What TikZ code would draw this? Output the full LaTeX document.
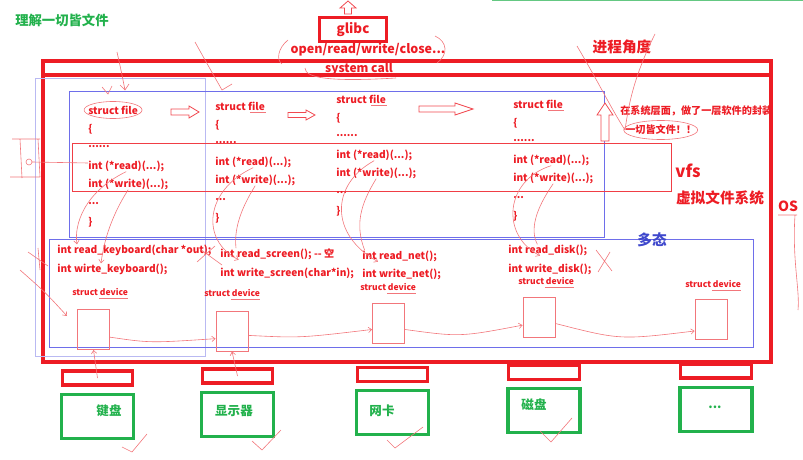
\documentclass[tikz,border=0pt]{standalone}
\usepackage{fontspec}
\setmainfont{Noto Sans CJK SC}
\usetikzlibrary{arrows.meta, positioning, calc}
\definecolor{osred}{HTML}{ED1C24}
\definecolor{hwgreen}{HTML}{22B14C}
\definecolor{vfsblue}{HTML}{6E6EEA}
\definecolor{paleblue}{HTML}{B9B9F2}
\definecolor{polyblue}{HTML}{3F48CC}
\definecolor{inkred}{HTML}{F2767B}

\begin{document}
\begin{tikzpicture}[x=0.75pt, y=-0.75pt,
    thickred/.style={draw=osred, line width=2.3pt},
    port/.style={rectangle, draw=osred, line width=2.3pt, minimum width=53pt, minimum height=10.5pt, inner sep=0pt},
    hw/.style={rectangle, draw=hwgreen, line width=2.3pt, minimum width=54pt, minimum height=33pt, inner sep=0pt},
    hwlabel/.style={text=hwgreen, font=\bfseries\fontsize{9.4}{11}\selectfont, inner sep=0pt},
    code/.style={anchor=west, inner sep=0pt, text=osred, font=\bfseries\fontsize{7.6}{9}\selectfont},
    devlabel/.style={anchor=west, inner sep=0pt, text=osred, font=\bfseries\fontsize{6.4}{7}\selectfont},
    device/.style={rectangle, draw=inkred, line width=0.6pt, minimum width=24pt, minimum height=30pt, inner sep=0pt},
    title/.style={text=osred, font=\bfseries\fontsize{11}{13}\selectfont, inner sep=0pt},
    hollow/.style={draw=osred!80, line width=0.6pt, fill=white},
    scrib/.style={draw=inkred, line width=0.45pt},
    barb/.style={-{Straight Barb[length=2.5pt, width=4pt]}},
  ]
    \useasboundingbox (0,0) rectangle (803,460);

    % top edge
    \draw[hwgreen!70, line width=0.8pt] (492,0.6) -- (803,0.6);
    \node[hwlabel, font=\bfseries\fontsize{10}{12}\selectfont] (title) at (62,20) {理解一切皆文件};

    % glibc and system calls
    \node[rectangle, thickred, minimum width=50pt, minimum height=18pt, text=osred,
      font=\bfseries\fontsize{10}{12}\selectfont] (glibc) at (353,29.5) {glibc};
    \draw[hollow] (344.5,14) -- ++(0,-6) -- ++(-4.5,0) -- ++(8,-7) -- ++(8,7) -- ++(-4.5,0) -- ++(0,6) -- cycle;
    \node[title, font=\bfseries\fontsize{9.4}{11}\selectfont] (calls) at (368,50) {open/read/write/close...};
    \node[title] (proc) at (622,47) {进程角度};

    % OS box and system call bar
    \draw[thickred] (43,61) rectangle (771,362);
    \draw[thickred] (43,61) rectangle (771,75);
    \node[title, font=\bfseries\fontsize{9}{11}\selectfont] (syscall) at (359,69) {system call};

    % vfs layer
    \draw[paleblue, line width=0.7pt] (35,78) rectangle (205,356);
    \draw[vfsblue, line width=0.7pt] (69,91) rectangle (604,237);
    \draw[osred!85, line width=0.6pt] (72,143) rectangle (671,191);
    \foreach \c/\x/\y in {1/88/110, 2/215/106, 3/336/99, 4/513/104} {
      \node[code] (sf\c) at (\x,\y) {struct file};
      \node[code] (sf\c-open) at (\x,\y+19) {\{};
      \node[code] (sf\c-dots) at (\x,\y+37) {......};
      \node[code] (sf\c-read) at (\x,\y+56) {int (*read)(...);};
      \node[code] (sf\c-write) at (\x,\y+74) {int (*write)(...);};
      \node[code] (sf\c-more) at (\x,\y+94) {...};
      \node[code] (sf\c-close) at (\x,\y+112) {\}};
    }
    % hollow arrows between files
    \draw[hollow] (171,109) -- ++(18,0) -- ++(0,-3) -- ++(10,6) -- ++(-10,6) -- ++(0,-3) -- ++(-18,0) -- cycle;
    \draw[hollow] (288,112.5) -- ++(18,0) -- ++(0,-2.5) -- ++(9,5) -- ++(-9,5) -- ++(0,-2.5) -- ++(-18,0) -- cycle;
    \draw[hollow] (419,106) -- ++(36,0) -- ++(0,-3) -- ++(18,6) -- ++(-18,6) -- ++(0,-3) -- ++(-36,0) -- cycle;
    \draw[hollow] (601,141) -- ++(0,-26) -- ++(-4,0) -- ++(8,-12) -- ++(8,12) -- ++(-4,0) -- ++(0,26) -- cycle;

    \node[code, font=\bfseries\fontsize{7.6}{9}\selectfont] (wrap) at (620,111) {在系统层面，做了一层软件的封装};
    \node[code, font=\bfseries\fontsize{7.6}{9}\selectfont] (allfile) at (625,130) {一切皆文件！！};
    \node[title, font=\bfseries\fontsize{12.5}{14}\selectfont] (vfs) at (688,171) {vfs};
    \node[title] (vfsname) at (720,198) {虚拟文件系统};
    \node[title, font=\bfseries\fontsize{10.5}{12}\selectfont] (os) at (788,206) {OS};

    % device layer
    \draw[vfsblue, line width=0.7pt] (49,239) rectangle (753,347);
    \node[title, text=polyblue] (poly) at (652,240) {多态};
    \node[code] (kb-read) at (57,250) {int read\_keyboard(char *out);};
    \node[code] (kb-write) at (57,269) {int wirte\_keyboard();};
    \node[code] (scr-read) at (220,254) {int read\_screen(); {-}{-} 空};
    \node[code] (scr-write) at (220,273) {int write\_screen(char*in);};
    \node[code] (net-read) at (362,256) {int read\_net();};
    \node[code] (net-write) at (362,274) {int write\_net();};
    \node[code] (dsk-read) at (508,250) {int read\_disk();};
    \node[code] (dsk-write) at (508,269) {int write\_disk();};
    \foreach \d/\lx/\ly/\bx/\by in {1/72/292/93.5/329.5, 2/204/293/232/331, 3/360/287/388.5/323.5,
        4/518/281/539/317.5, 5/685/284/711/319.5} {
      \node[devlabel] (devname\d) at (\lx,\ly) {struct device};
      \node[device] (dev\d) at (\bx,\by) {};
    }

    % hardware
    \foreach \h/\x/\y/\tx/\ty/\t in {1/97.5/378/109/411/键盘, 2/237.5/376/234/411/显示器,
        3/392.5/374.5/382/411/网卡, 4/544/372.5/534/405/磁盘, 5/716/371/715/407/{.{}.{}.}} {
      \node[port] (port\h) at (\x,\y) {};
      \node[hw, below=4.5pt of port\h] (hw\h) {};
      \node[hwlabel] (hwname\h) at (\tx,\ty) {\t};
    }

    % hand-written marks
    \draw[scrib] (sf1.center) ellipse [x radius=29, y radius=8.5];
    \draw[scrib] (allfile.center) ellipse [x radius=37, y radius=9.5];
    \foreach \c in {2,3,4} \draw[scrib] ([xshift=-11pt,yshift=-1pt]sf\c.south east) -- ([xshift=1pt,yshift=-1pt]sf\c.south east);
    \foreach \d in {1,2,3,4,5} \draw[scrib] ([xshift=-22pt,yshift=-1.5pt]devname\d.south east) -- ([yshift=-1.5pt]devname\d.south east);

    \draw[scrib, barb] (sf1-read.south) .. controls (84,192) and (74,225) .. ([xshift=15pt]kb-read.north west);
    \draw[scrib, barb] (sf1-write.south) .. controls (112,215) and (104,240) .. ([xshift=33pt]kb-write.north west);
    \draw[scrib, barb] (sf2-read.south) .. controls (205,190) and (200,240) .. ([xshift=14pt]scr-read.south west);
    \draw[scrib] (sf2-write.south) .. controls (240,210) and (234,230) .. ([xshift=12pt]scr-read.north west);
    \draw[scrib, barb] (sf3-read.south) .. controls (330,185) and (330,235) .. ([xshift=12pt]net-read.south west);
    \draw[scrib] (sf3-write.south) .. controls (360,205) and (355,225) .. ([xshift=2pt]net-read.north west);
    \draw[scrib, barb] (sf4-read.south) .. controls (505,180) and (500,235) .. ([xshift=24pt]dsk-read.south west);
    \draw[scrib] (sf4-write.south) .. controls (535,210) and (530,230) .. ([xshift=22pt]dsk-read.north west);

    \draw[scrib, barb] (dev1.-25) .. controls (150,343) .. (dev2.205);
    \draw[scrib, barb] (dev2.-15) .. controls (300,338) .. (dev3.200);
    \draw[scrib, barb] (dev3.-20) .. controls (460,337) .. (dev4.205);
    \draw[scrib, barb] (dev4.-20) .. controls (620,340) .. (dev5.215);
    \draw[scrib, barb] (port1.center) -- (dev1.south);
    \draw[scrib, barb] (port2.center) -- (dev2.south);

    \coordinate (proc-l) at (577,46);
    \coordinate (proc-r) at (655,34);
    \draw[scrib] (proc-l) .. controls (600,85) and (612,110) .. (allfile.west);
    \draw[scrib] (proc-r) .. controls (632,80) and (628,110) .. (allfile.west);
    \draw[scrib, barb] (20,270) .. controls (45,292) .. (67,316);
    \draw[scrib] (28,252) -- (48,266) (38,248) -- (40,270);
    \draw[scrib] (12,139) -- (40,139) (20,139) -- (22,178) (10,177) -- (40,177) (38,139) -- (40,177);
    \draw[scrib] (29,162) circle [radius=3] (32,162) -- (88,163);
    \draw[scrib] (200,249) -- (222,265) (197,262) -- (215,246);
    \draw[scrib] (596,250) -- (612,271) (598,272) -- (610,252);
    \draw[scrib] (288,40) .. controls (278,48) and (276,60) .. (282,64);
    \draw[scrib] (305,68) .. controls (305,78) and (330,82) .. (396,78);
    \draw[scrib] (435,36) .. controls (448,42) and (448,55) .. (437,63);
    \draw[scrib] (195,42) .. controls (205,60) .. (222,90) -- (232,84);
    \draw[scrib] (117,52) .. controls (121,70) .. (125,90) (120,85) -- (125,90) -- (129,84);
    \draw[scrib] (102,87) -- (108,94) -- (112,86);
    \draw[scrib] (778,215) -- (797,215) (795,215) .. controls (792,260) and (800,290) .. (798,310);
    \foreach \a/\b/\c/\d/\e/\f in {122/447/132/452/147/434, 252/441/262/450/281/430,
        387/440/395/448/423/427, 540/431/551/442/572/418}
      \draw[scrib] (\a,\b) -- (\c,\d) -- (\e,\f);
  \end{tikzpicture}
\end{document}
